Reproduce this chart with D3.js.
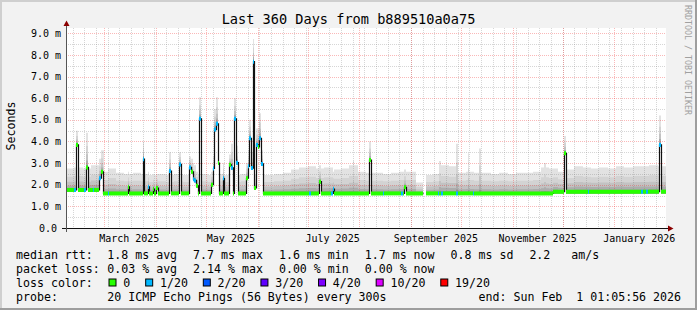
<!DOCTYPE html>
<html>
<head>
<meta charset="utf-8">
<script src="https://cdn.jsdelivr.net/npm/d3@7"></script>
<style>
  html, body { margin: 0; padding: 0; background: #fff; }
  svg text { font-family: "DejaVu Sans Mono", monospace; white-space: pre; }
</style>
</head>
<body>
<div id="chart"></div>
<script>
const W = 697, H = 310;

// time window of the graph
const startTime = new Date(Date.UTC(2025, 1, 6, 1, 5, 56));
const endTime = new Date(Date.UTC(2026, 1, 1, 1, 5, 56));
const firstDay = Date.UTC(2025, 1, 6);   // day 0 of the daily samples
const nDays = 360;

// median rtt (ms) of the quiet periods: [from day, to day, median]
const baseRuns = [[0, 20, 1.76], [20, 292, 1.6], [292, 360, 1.68]];

// max ping (ms) of the smoke, one value per 5 days
const smokeTop = [
  2.75, 2.8, 2.75, 2.9, 2.6, 2.75, 2.55, 2.5, 2.55, 2.5,
  2.45, 2.5, 2.45, 2.5, 2.45, 2.45, 2.5, 2.45, 2.5, 2.45,
  2.45, 2.5, 2.5, 2.45, 2.45, 2.5, 2.55, 2.7, 2.8, 2.85,
  2.75, 2.8, 2.7, 2.75, 2.9, 2.6, 2.55, 2.55, 2.5, 2.55,
  2.6, 2.6, 2.1, 2.45, 2.5, 2.9, 2.85, 2.55, 2.6, 2.55,
  2.55, 2.5, 2.55, 2.5, 2.55, 2.55, 2.6, 2.8, 2.75, 2.6,
  2.7, 2.85, 2.8, 2.75, 2.8, 2.75, 2.85, 2.8, 2.85, 2.85,
  2.9, 2.85
];

// days with a raised median: [day, median ms, max ping ms, loss class]
const spikes = [
  [6, 3.84, 4.5, 0], [12, 2.8, 4.4, 0], [20, 2.3, 3.2, 1], [21, 2.6, 3.6, 0],
  [37, 1.9, 2.6, 0], [46, 3.18, 4.0, 1], [49, 1.9, 2.6, 1], [52, 1.8, 2.5, 0],
  [54, 1.85, 2.5, 0], [62, 2.63, 3.5, 1], [68, 2.94, 3.5, 1],
  [74, 2.8, 3.3, 1], [75, 2.6, 3.2, 0], [76, 2.25, 3.0, 1], [77, 2.2, 2.9, 1], [78, 1.95, 2.6, 0],
  [80, 5.05, 6.05, 1],
  [87, 2.0, 2.6, 0], [88, 2.75, 3.3, 1], [89, 4.55, 5.5, 1], [90, 4.82, 6.05, 1], [91, 3.0, 4.0, 0],
  [94, 2.3, 3.0, 1], [98, 2.92, 3.4, 0], [99, 2.78, 3.9, 1],
  [101, 5.05, 6.0, 1], [102, 3.02, 3.8, 1],
  [108, 2.3, 3.0, 0], [109, 2.85, 3.6, 1], [110, 4.15, 5.0, 1], [111, 2.77, 3.5, 1],
  [112, 7.69, 8.74, 1], [113, 1.85, 2.5, 0], [114, 3.84, 4.6, 1], [115, 3.75, 4.6, 0],
  [116, 4.15, 5.3, 1], [117, 2.96, 3.6, 1],
  [152, 2.14, 2.9, 0], [160, 1.8, 2.6, 1], [182, 3.14, 4.0, 0], [203, 1.88, 2.7, 0],
  [299, 3.45, 4.25, 0], [356, 3.84, 5.2, 1]
];

// quiet days with one lost ping: [day, loss class]
const lossBlips = [
  [5, 1], [11, 1], [16, 1], [25, 1], [146, 1], [159, 1], [190, 1], [201, 1],
  [223, 1], [225, 1], [234, 1], [244, 1], [313, 1], [345, 1], [348, 1]
];

// quiet days with a single slow ping: [day, max ping ms]
const smokeSpikes = [[22, 3.6], [172, 3.1], [224, 3.1], [234, 3.9], [241, 3.45], [248, 3.68], [287, 3.0]];

// days without data
const gapDays = [214, 215];

const lossColors = [
  ["0", "#26ff00"], ["1/20", "#00b8ff"], ["2/20", "#0059ff"], ["3/20", "#5e00ff"],
  ["4/20", "#7e00ff"], ["10/20", "#dd00ff"], ["19/20", "#ff0000"]
];

const yTicks = [0, 1, 2, 3, 4, 5, 6, 7, 8, 9];
const xLabels = ["March 2025", "May 2025", "July 2025", "September 2025", "November 2025", "January 2026"];

const medianStats = ["1.8 ms avg", "7.7 ms max", "1.6 ms min", "1.7 ms now", "0.8 ms sd", "2.2   am/s"];
const lossStats = ["0.03 % avg", "2.14 % max", "0.00 % min", "0.00 % now"];
const probeText = "20 ICMP Echo Pings (56 Bytes) every 300s";
const endText = "end: Sun Feb  1 01:05:56 2026";

// ---------------------------------------------------------------------------
const dayMs = 864e5;
const series = d3.range(nDays).map(d => {
  const run = baseRuns.find(r => d >= r[0] && d < r[1]);
  return { t: new Date(firstDay + d * dayMs), med: run[2], max: smokeTop[Math.floor(d / 5)], loss: 0 };
});
spikes.forEach(([d, med, max, loss]) => Object.assign(series[d], { med, max, loss }));
lossBlips.forEach(([d, loss]) => { series[d].loss = loss; });
smokeSpikes.forEach(([d, max]) => { series[d].max = max; });
gapDays.forEach(d => { series[d].med = null; });

// consecutive runs of samples matching a test, closed with an end point for step drawing
function runs(test) {
  const out = [];
  let cur = null;
  series.forEach(s => {
    if (s.med != null && test(s)) {
      if (!cur) { cur = []; out.push(cur); }
      cur.push(s);
    } else cur = null;
  });
  return out.map(r => {
    const last = r[r.length - 1];
    return r.concat([Object.assign({}, last, { t: new Date(+last.t + dayMs) })]);
  });
}

const x = d3.scaleUtc().domain([startTime, endTime]).range([66, 666]);
const y = d3.scaleLinear().domain([0, 9.246]).range([228, 28]);
const px = d => Math.round(x(d)) + 0.5;

const svg = d3.select("#chart").append("svg")
  .attr("width", W).attr("height", H);

svg.append("rect").attr("width", W).attr("height", H).attr("fill", "#f2f2f2");
svg.append("path").attr("d", `M0,0H${W}V2H2V${H}H0Z`).attr("fill", "#cfcfcf");
svg.append("path").attr("d", `M${W},${H}H0V${H - 2}H${W - 2}V0H${W}Z`).attr("fill", "#9e9e9e");

svg.append("rect").attr("x", 66).attr("y", 28).attr("width", 600).attr("height", 200).attr("fill", "#fff");

svg.append("clipPath").attr("id", "plot")
  .append("rect").attr("x", 67).attr("y", 28).attr("width", 599).attr("height", 200);

const plot = svg.append("g").attr("clip-path", "url(#plot)");

// smoke: darker shades closer to the median
const bandFrac = [1, 0.62, 0.38, 0.2, 0.08];
const bandColor = ["#e2e2e2", "#d3d3d3", "#c2c2c2", "#acacac", "#909090"];
const dataRuns = runs(() => true);
bandFrac.forEach((f, i) => {
  const area = d3.area()
    .curve(d3.curveStepAfter)
    .x(d => px(d.t) - 0.5)
    .y0(d => y(d.med - 0.08))
    .y1(d => y(d.med + f * (d.max - d.med)));
  plot.selectAll(null).data(dataRuns).enter().append("path")
    .attr("d", area).attr("fill", bandColor[i]);
});

// grid
const grid = plot.append("g");
grid.selectAll(".wk").data(d3.utcMonday.range(startTime, endTime)).enter().append("line")
  .attr("x1", d => px(d)).attr("x2", d => px(d))
  .attr("y1", 28).attr("y2", 228)
  .attr("stroke", "rgba(128,128,128,0.32)").attr("stroke-dasharray", "1,1");
grid.selectAll(".hmin").data(d3.range(0.5, 9.2, 1)).enter().append("line")
  .attr("x1", 66).attr("x2", 666)
  .attr("y1", d => Math.round(y(d)) + 0.5).attr("y2", d => Math.round(y(d)) + 0.5)
  .attr("stroke", "rgba(128,128,128,0.32)").attr("stroke-dasharray", "1,1");
grid.selectAll(".mo").data(d3.utcMonth.range(startTime, endTime)).enter().append("line")
  .attr("x1", d => px(d)).attr("x2", d => px(d))
  .attr("y1", 28).attr("y2", 228)
  .attr("stroke", "rgba(240,40,40,0.33)").attr("stroke-dasharray", "1,1");
grid.selectAll(".hmaj").data(yTicks.slice(1)).enter().append("line")
  .attr("x1", 66).attr("x2", 666)
  .attr("y1", d => Math.round(y(d)) + 0.5).attr("y2", d => Math.round(y(d)) + 0.5)
  .attr("stroke", "rgba(240,40,40,0.33)").attr("stroke-dasharray", "1,1");

// median line
const medLine = d3.line().curve(d3.curveStepAfter).x(d => px(d.t)).y(d => y(d.med));
plot.selectAll(null).data(dataRuns).enter().append("path")
  .attr("d", medLine).attr("fill", "none").attr("stroke", "#111").attr("stroke-width", 1.2);

// loss coloured median
lossColors.forEach(([, color], k) => {
  const band = d3.area().curve(d3.curveStepAfter)
    .x(d => px(d.t) - 0.5).y0(d => y(d.med) + 2).y1(d => y(d.med) - 2);
  plot.selectAll(null).data(runs(s => s.loss === k)).enter().append("path")
    .attr("d", band).attr("fill", color);
});

// axes
svg.append("line").attr("x1", 62).attr("x2", 668).attr("y1", 228.5).attr("y2", 228.5)
  .attr("stroke", "#111");
svg.append("line").attr("x1", 66.5).attr("x2", 66.5).attr("y1", 232).attr("y2", 25)
  .attr("stroke", "#555");
svg.append("path").attr("d", "M668,225.5L673.5,228.5L668,231.5Z").attr("fill", "#8b0000");
svg.append("path").attr("d", "M63.5,26L66.5,20.5L69.5,26Z").attr("fill", "#8b0000");

// y labels
svg.selectAll(".yl").data(yTicks).enter().append("text")
  .attr("x", d => d === 0 ? 57 : 61)
  .attr("y", d => y(d))
  .attr("dy", "0.36em")
  .attr("text-anchor", "end")
  .attr("font-size", "10px")
  .text(d => d === 0 ? "0.0" : d3.format(".1f")(d) + " m");

// x labels, centred on the middle of the month
svg.selectAll(".xl").data(xLabels).enter().append("text")
  .attr("x", d => x(d3.utcDay.offset(d3.utcParse("%B %Y")(d), 15)))
  .attr("y", 241.5)
  .attr("text-anchor", "middle")
  .attr("font-size", "10px")
  .text(d => d);

// title and axis title
svg.append("text").attr("x", 348.5).attr("y", 24).attr("text-anchor", "middle")
  .attr("font-size", "13.6px").text("Last 360 Days from b889510a0a75");
svg.append("text").attr("transform", "translate(15,126) rotate(-90)")
  .attr("text-anchor", "middle").attr("font-size", "11.6px").text("Seconds");
svg.append("text").attr("transform", "translate(685,5) rotate(90)")
  .attr("font-size", "8.3px").attr("fill", "#a0a0a0").text("RRDTOOL / TOBI OETIKER");

// legend
const legend = svg.append("g").attr("font-size", "11.6px");
function rowItems(items, yy) {
  let cx = 107.3;
  items.forEach(s => {
    const t = legend.append("text").attr("x", cx).attr("y", yy).text(s);
    cx += t.node().getComputedTextLength() + 16;
  });
}
legend.append("text").attr("x", 16).attr("y", 259).text("median rtt:");
rowItems(medianStats, 259);
legend.append("text").attr("x", 16).attr("y", 273).text("packet loss:");
rowItems(lossStats, 273);
legend.append("text").attr("x", 16).attr("y", 287).text("loss color:");
let lx = 109;
lossColors.forEach(([label, color]) => {
  legend.append("rect").attr("x", lx).attr("y", 279).attr("width", 7).attr("height", 7)
    .attr("fill", color).attr("stroke", "#000");
  const t = legend.append("text").attr("x", lx + 14.3).attr("y", 287).text(label);
  lx += 14.3 + t.node().getComputedTextLength() + 15.4;
});
legend.append("text").attr("x", 16).attr("y", 300.5).text("probe:");
legend.append("text").attr("x", 107.3).attr("y", 300.5).text(probeText);
legend.append("text").attr("x", 681).attr("y", 300.5).attr("text-anchor", "end").text(endText);
</script>
</body>
</html>
